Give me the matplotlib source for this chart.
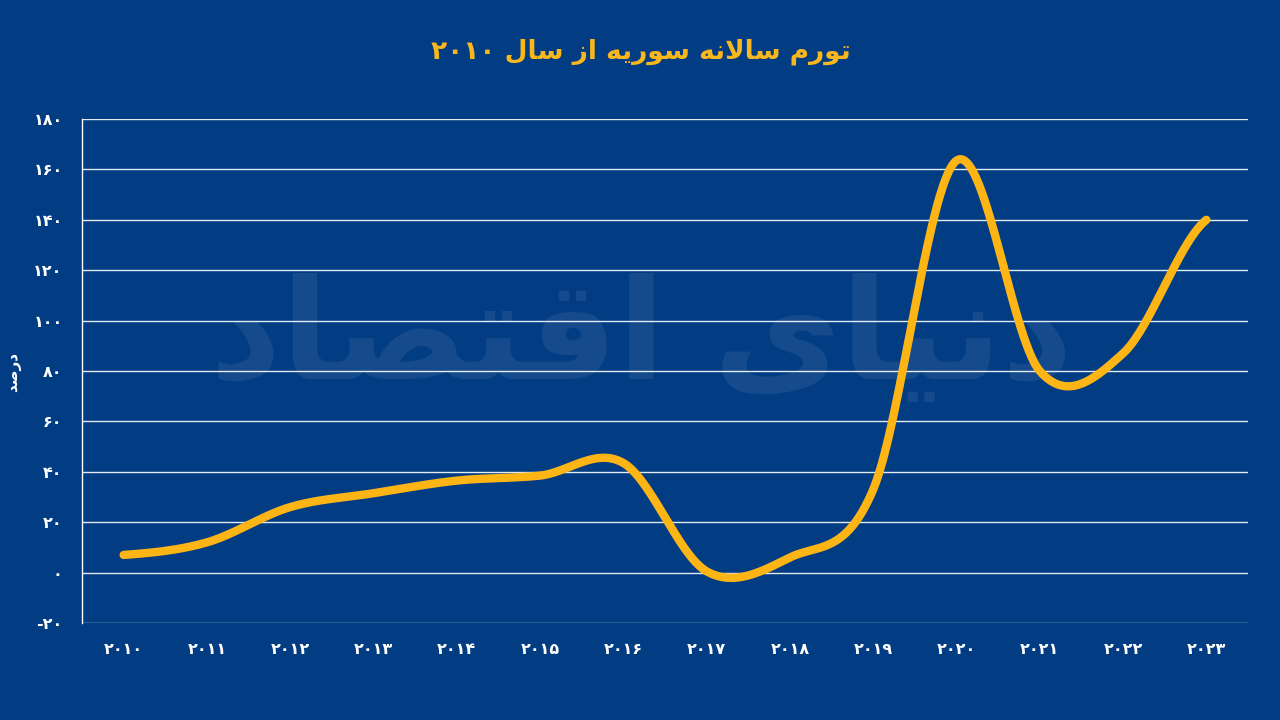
import numpy as np
import matplotlib
matplotlib.use("Agg")
import matplotlib.pyplot as plt

# ---------------- data ----------------
years = [2010, 2011, 2012, 2013, 2014, 2015, 2016, 2017, 2018, 2019, 2020, 2021, 2022, 2023]
inflation = [7, 12, 26, 31.5, 36.5, 38.5, 43.5, 0.5, 6, 33, 163.5, 80, 87, 140]
yticks = [-20, 0, 20, 40, 60, 80, 100, 120, 140, 160, 180]
title_text = "تورم سالانه سوریه از سال ۲۰۱۰"
ylabel_text = "درصد"
watermark_text = "دنیای اقتصاد"

BG = "#023c83"
LINE = "#fdb515"
TITLE_C = "#f8b71c"

# ---------------- minimal Persian shaping ----------------
FORMS = {  # iso, fin, ini, med
    "ا": ("\uFE8D", "\uFE8E", None, None),
    "د": ("\uFEA9", "\uFEAA", None, None),
    "ر": ("\uFEAD", "\uFEAE", None, None),
    "ز": ("\uFEAF", "\uFEB0", None, None),
    "و": ("\uFEED", "\uFEEE", None, None),
    "ت": ("\uFE95", "\uFE96", "\uFE97", "\uFE98"),
    "م": ("\uFEE1", "\uFEE2", "\uFEE3", "\uFEE4"),
    "س": ("\uFEB1", "\uFEB2", "\uFEB3", "\uFEB4"),
    "ل": ("\uFEDD", "\uFEDE", "\uFEDF", "\uFEE0"),
    "ن": ("\uFEE5", "\uFEE6", "\uFEE7", "\uFEE8"),
    "ه": ("\uFEE9", "\uFEEA", "\uFEEB", "\uFEEC"),
    "ی": ("\uFEEF", "\uFEF0", "\uFEF3", "\uFEF4"),
    "ص": ("\uFEB9", "\uFEBA", "\uFEBB", "\uFEBC"),
    "ق": ("\uFED5", "\uFED6", "\uFED7", "\uFED8"),
}
LAMALEF = ("\uFEFB", "\uFEFC")


def dual(c):
    return c in FORMS and FORMS[c][2] is not None


def shape_word(w):
    chars = list(w)
    out = []
    i = 0
    while i < len(chars):
        c = chars[i]
        prev = chars[i - 1] if i > 0 else None
        jp = prev is not None and dual(prev)
        if c == "ل" and i + 1 < len(chars) and chars[i + 1] == "ا":
            out.append(LAMALEF[1] if jp else LAMALEF[0])
            i += 2
            continue
        if c not in FORMS:
            out.append(c)
            i += 1
            continue
        nxt = chars[i + 1] if i + 1 < len(chars) else None
        jn = nxt is not None and nxt in FORMS and dual(c)
        iso, fin, ini, med = FORMS[c]
        if jp and jn:
            out.append(med)
        elif jp:
            out.append(fin)
        elif jn:
            out.append(ini)
        else:
            out.append(iso)
        i += 1
    return "".join(out)


def is_digits(w):
    return all(ch in "۰۱۲۳۴۵۶۷۸۹0123456789" for ch in w)


def rtl(text):
    words = text.split(" ")
    vis = [w if is_digits(w) else shape_word(w)[::-1] for w in words]
    return " ".join(reversed(vis))


FA = str.maketrans("0123456789", "۰۱۲۳۴۵۶۷۸۹")


def fa(n):
    return str(n).translate(FA)


# ---------------- smooth curve (Catmull-Rom through the points) ----------------
def catmull(xs, ys, n=60):
    xs = np.asarray(xs, float)
    ys = np.asarray(ys, float)
    px = np.concatenate([[xs[0]], xs, [xs[-1]]])
    py = np.concatenate([[ys[0]], ys, [ys[-1]]])
    X, Y = [], []
    for k in range(1, len(px) - 2):
        t = np.linspace(0, 1, n, endpoint=False)
        m0 = (py[k + 1] - py[k - 1]) / 2.0
        m1 = (py[k + 2] - py[k]) / 2.0
        h00 = 2 * t**3 - 3 * t**2 + 1
        h10 = t**3 - 2 * t**2 + t
        h01 = -2 * t**3 + 3 * t**2
        h11 = t**3 - t**2
        Y.append(h00 * py[k] + h10 * m0 + h01 * py[k + 1] + h11 * m1)
        X.append(px[k] + t * (px[k + 1] - px[k]))
    X.append([xs[-1]])
    Y.append([ys[-1]])
    return np.concatenate(X), np.concatenate(Y)


plt.rcParams["font.family"] = ["DejaVu Sans"]

fig = plt.figure(figsize=(12.8, 7.2), dpi=100, facecolor=BG)
ax = fig.add_axes([82 / 1280, 1 - 623 / 720, (1248 - 82) / 1280, (623 - 119) / 720])
ax.set_facecolor(BG)

# faint watermark inside the plot area
ax.text(0.48, 0.56, rtl(watermark_text), transform=ax.transAxes, fontsize=100,
        fontweight="bold", color="white", alpha=0.08, ha="center", va="center",
        zorder=0)

sx, sy = catmull(years, inflation)
ax.plot(sx, sy, color=LINE, lw=6, solid_capstyle="round", zorder=3)

ax.set_xlim(2009.5, 2023.5)
ax.set_ylim(-20, 180)
ax.set_yticks(yticks)
ax.set_yticklabels([fa(v) if v >= 0 else "-" + fa(-v) for v in yticks])
ax.set_xticks(years)
ax.set_xticklabels([fa(y) for y in years])
ax.grid(axis="y", color="white", lw=1.0, alpha=0.9, zorder=1)
ax.tick_params(length=0, colors="white", labelsize=11.5)
ax.tick_params(axis="y", pad=14)
ax.tick_params(axis="x", pad=14)
for lab in ax.get_xticklabels() + ax.get_yticklabels():
    lab.set_fontweight("bold")
for s in ["top", "right", "bottom"]:
    ax.spines[s].set_visible(False)
ax.spines["left"].set_color("white")
ax.spines["left"].set_linewidth(1.0)

fig.text(14 / 1280, 1 - 372 / 720, rtl(ylabel_text), rotation=90, color="white",
         fontsize=11, fontweight="bold", ha="center", va="center")
fig.text(641 / 1280, 1 - 52 / 720, rtl(title_text), color=TITLE_C, fontsize=19,
         fontweight="bold", ha="center", va="center")

fig.savefig("out.png", dpi=100, facecolor=BG)
